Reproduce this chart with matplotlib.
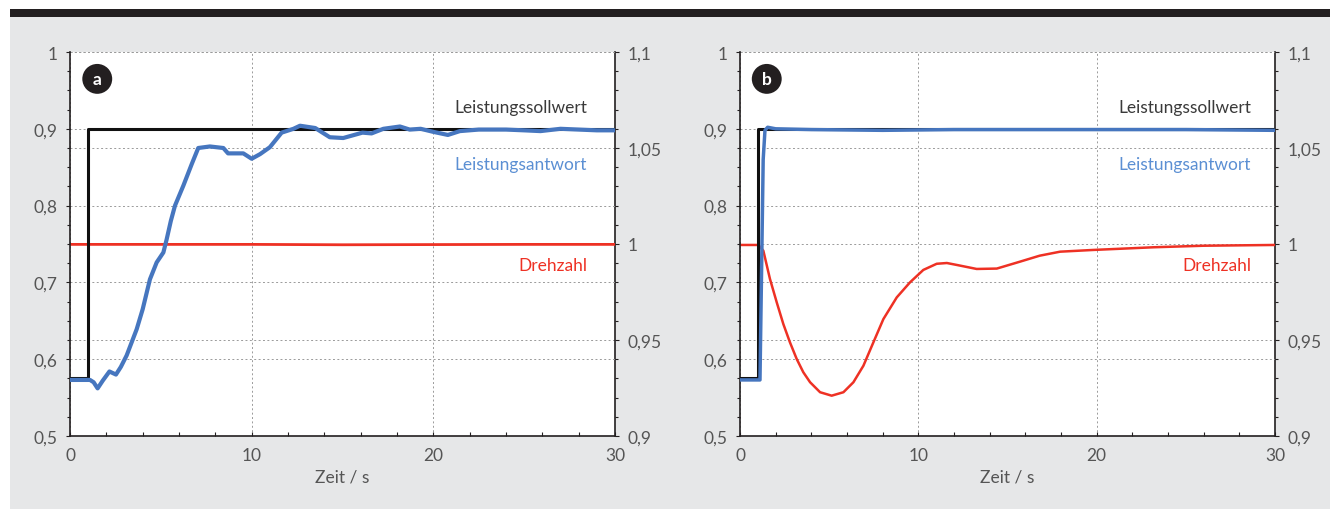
import numpy as np
import matplotlib.pyplot as plt
from matplotlib.ticker import MultipleLocator, FuncFormatter

plt.rcParams['font.family'] = ['Lato', 'DejaVu Sans']

# ---- data ----
# setpoint (left axis)
t_set = [0, 1.0, 1.0, 30]
p_set_a = [0.575, 0.575, 0.9, 0.9]
p_set_b = [0.575, 0.575, 0.9, 0.9]

# panel a: power response (left axis)
t_resp_a = [0, 1.1, 1.3, 1.52, 1.8, 2.17, 2.53, 2.8, 3.12, 3.67, 4.0, 4.4, 4.77,
            5.14, 5.32, 5.55, 5.78, 6.24, 6.7, 7.06, 7.7, 8.44, 8.7, 9.54, 10.0,
            10.46, 11.0, 11.65, 12.3, 12.66, 13.5, 14.3, 15.04, 16.1, 16.6,
            17.25, 18.16, 18.7, 19.3, 20.0, 20.8, 21.46, 22.5, 24.0, 25.0,
            25.9, 27.0, 28.0, 29.0, 30.0]
p_resp_a = [0.573, 0.573, 0.57, 0.562, 0.572, 0.584, 0.58, 0.59, 0.605, 0.639,
            0.665, 0.704, 0.726, 0.739, 0.756, 0.78, 0.8, 0.826, 0.854, 0.875,
            0.877, 0.875, 0.868, 0.868, 0.861, 0.867, 0.876, 0.895, 0.9, 0.904,
            0.901, 0.889, 0.888, 0.895, 0.894, 0.9, 0.903, 0.899, 0.9, 0.896,
            0.892, 0.897, 0.899, 0.899, 0.898, 0.897, 0.9, 0.899, 0.898, 0.898]

# panel a: speed (right axis)
t_speed_a = [0, 5, 10, 15, 20, 25, 30]
n_speed_a = [0.9998, 0.9998, 0.9998, 0.9996, 0.9997, 0.9998, 0.9998]

# panel b: power response (left axis)
t_resp_b = [0, 1.12, 1.2, 1.3, 1.4, 1.55, 2.0, 4.0, 8.0, 12.0, 16.0, 20.0, 25.0, 30.0]
p_resp_b = [0.573, 0.573, 0.7, 0.86, 0.898, 0.902, 0.9, 0.899, 0.898, 0.899,
            0.899, 0.899, 0.899, 0.898]

# panel b: speed (right axis)
t_speed_b = [0, 1.03, 1.31, 1.68, 2.06, 2.43, 2.8, 3.18, 3.55, 3.93, 4.49, 5.14,
             5.8, 6.36, 6.92, 7.48, 8.04, 8.79, 9.53, 10.28, 11.03, 11.6, 12.15,
             13.27, 14.4, 15.7, 16.8, 17.95, 19.8, 23.2, 26.0, 30.0]
n_speed_b = [0.9995, 0.9995, 0.9965, 0.9818, 0.9696, 0.9583, 0.9488, 0.9401,
             0.9332, 0.928, 0.9228, 0.921, 0.9228, 0.928, 0.9366, 0.9488, 0.9609,
             0.9722, 0.980, 0.9865, 0.9897, 0.9901, 0.9891, 0.987, 0.9872,
             0.9908, 0.9939, 0.996, 0.9969, 0.9983, 0.9991, 0.9995]

labels = ['Leistungssollwert', 'Leistungsantwort', 'Drehzahl']
panels = ['a', 'b']

BLUE = '#4676bf'
RED = '#ee3124'
TXT = '#555555'
GRID = dict(color='#9a9a9a', lw=0.7, ls=(0, (2, 2.5)))

fig = plt.figure(figsize=(13.3, 5.1), dpi=100)
fig.patch.set_facecolor('white')
# grey background and black bar on top
fig.patches.append(plt.Rectangle((10 / 1330, 0), 1, 492 / 510, transform=fig.transFigure,
                                 facecolor='#e6e7e8', edgecolor='none', zorder=-5))
fig.patches.append(plt.Rectangle((10 / 1330, 492 / 510), 1, 8 / 510, transform=fig.transFigure,
                                 facecolor='#231f20', edgecolor='none', zorder=-5))

comma = FuncFormatter(lambda v, p: ('%g' % round(v, 3)).replace('.', ','))

boxes = [[70 / 1330, 73 / 510, 545 / 1330, 384 / 510],
         [740 / 1330, 73 / 510, 535 / 1330, 384 / 510]]
resp = [(t_resp_a, p_resp_a, 3.0), (t_resp_b, p_resp_b, 2.5)]
speed = [(t_speed_a, n_speed_a, 2.0), (t_speed_b, n_speed_b, 1.8)]
sets = [p_set_a, p_set_b]
label_x = [0.949, 0.955]

for i in range(2):
    ax = fig.add_axes(boxes[i])
    ax2 = ax.twinx()
    # left-scale axes on top, right-scale axes (white, with its grid) below
    ax.set_zorder(ax2.get_zorder() + 1)
    ax.patch.set_visible(False)
    ax2.patch.set_visible(True)
    ax2.set_facecolor('white')

    ax.set_xlim(0, 30)
    ax.set_ylim(0.5, 1.0)
    ax2.set_ylim(0.9, 1.1)

    ax.set_yticks([0.5, 0.6, 0.7, 0.8, 0.9, 1.0])
    ax.yaxis.set_minor_locator(MultipleLocator(0.025))
    ax.xaxis.set_major_locator(MultipleLocator(10))
    ax.xaxis.set_minor_locator(MultipleLocator(2))
    ax2.set_yticks([0.9, 0.95, 1.0, 1.05, 1.1])
    ax2.yaxis.set_minor_locator(MultipleLocator(0.01))
    ax.yaxis.set_major_formatter(comma)
    ax2.yaxis.set_major_formatter(comma)

    ax.grid(True, which='major', **GRID)
    ax2.grid(True, axis='y', which='major', **GRID)

    for s in ['top', 'right']:
        ax.spines[s].set_visible(False)
    for s in ['top', 'left', 'bottom']:
        ax2.spines[s].set_visible(False)
    for a in (ax, ax2):
        for s in a.spines.values():
            s.set_color('#231f20')
            s.set_linewidth(1.2)

    ax.tick_params(axis='y', which='both', direction='out', length=3, width=0.8,
                   colors='#231f20', labelcolor=TXT, labelsize=12.5, pad=6)
    ax.tick_params(axis='y', which='minor', length=2)
    ax.tick_params(axis='x', which='both', direction='in', length=3, width=0.8,
                   colors='#231f20', labelcolor=TXT, labelsize=12.5, pad=8)
    ax2.tick_params(axis='y', which='both', direction='out', length=3, width=0.8,
                    colors='#231f20', labelcolor=TXT, labelsize=12.5, pad=6)
    ax2.tick_params(axis='y', which='minor', length=2)

    # lines
    ax.plot(t_set, sets[i], color='#111111', lw=2.2, zorder=3)
    tr, pr, lw = resp[i]
    ax.plot(tr, pr, color=BLUE, lw=lw, zorder=4, solid_joinstyle='round')
    ts, ns, lws = speed[i]
    ax.plot(ts, ns, color=RED, lw=lws, zorder=2, transform=ax2.transData,
            solid_joinstyle='round')

    ax.set_xlabel('Zeit / s', color=TXT, fontsize=12.5, labelpad=4)

    ax.text(label_x[i], 0.857, labels[0], transform=ax.transAxes, ha='right', va='center',
            color='#3a3a3a', fontsize=12.5)
    ax.text(label_x[i], 0.708, labels[1], transform=ax.transAxes, ha='right', va='center',
            color='#5b8fd3', fontsize=12.5)
    ax.text(label_x[i], 0.445, labels[2], transform=ax.transAxes, ha='right', va='center',
            color=RED, fontsize=12.5)

    ax.text(0.05, 0.93, panels[i], transform=ax.transAxes, ha='center', va='center',
            color='white', fontsize=12.5, fontweight='bold',
            bbox=dict(boxstyle='circle,pad=0.4', fc='#231f20', ec='none'))

fig.savefig('out.png', dpi=100)
